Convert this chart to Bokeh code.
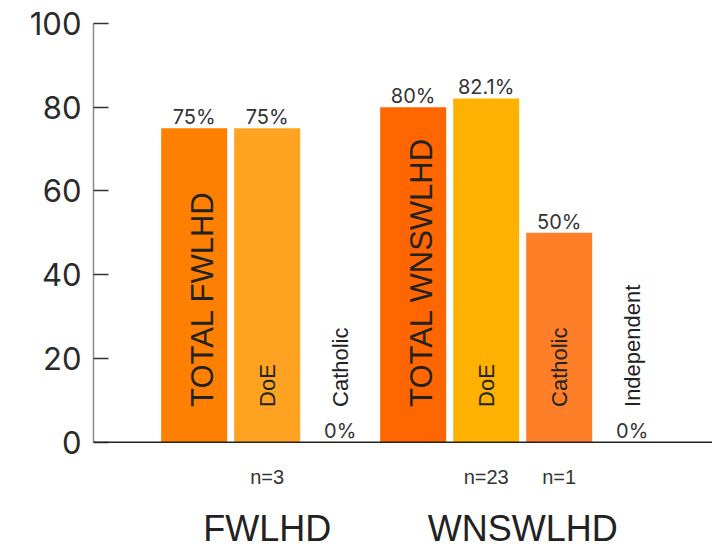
import math
from bokeh.plotting import figure
from bokeh.models import ColumnDataSource, Range1d, Span, FixedTicker
from bokeh.core.properties import value
from bokeh.embed import file_html
from bokeh.resources import INLINE

# ---- data ----
groups = ["FWLHD", "FWLHD", "FWLHD", "WNSWLHD", "WNSWLHD", "WNSWLHD", "WNSWLHD"]
categories = ["TOTAL FWLHD", "DoE", "Catholic", "TOTAL WNSWLHD", "DoE", "Catholic", "Independent"]
values = [75, 75, 0, 80, 82.1, 50, 0]
value_labels = ["75%", "75%", "0%", "80%", "82.1%", "50%", "0%"]
n_labels = ["", "n=3", "", "", "n=23", "n=1", ""]
group_names = ["FWLHD", "WNSWLHD"]
y_ticks = [0, 20, 40, 60, 80, 100]

# ---- styles ----
colors = ["#FF8000", "#FDA321", "#FDA321", "#FF6600", "#FFB100", "#FE7F28", "#FE7F28"]

xs = list(range(len(categories)))
px_per_unit = 418.4 / 100.0
y_bottom = -(549 - 441.7) / px_per_unit

p = figure(width=712, height=549, output_backend="svg", toolbar_location=None,
           x_range=Range1d(-1.379, 7.1), y_range=Range1d(y_bottom, 100),
           x_axis_location=None, min_border_left=93, min_border_right=0,
           min_border_top=23, min_border_bottom=0)
p.outline_line_color = None
p.xgrid.visible = False
p.ygrid.visible = False
p.background_fill_color = "white"
p.border_fill_color = "white"

ax = p.yaxis[0]
ax.bounds = (0, 100)
ax.ticker = FixedTicker(ticks=y_ticks)
ax.major_tick_in = 15
ax.major_tick_out = 0
ax.minor_tick_line_color = None
ax.axis_line_color = "#8a8a8a"
ax.axis_line_width = 1.5
ax.major_tick_line_color = "#333333"
ax.major_tick_line_width = 1.5
ax.major_label_text_font = "Inter"
ax.major_label_text_font_size = "31px"
ax.major_label_text_color = "#2a2a2a"
ax.major_label_standoff = 12

src = ColumnDataSource(dict(
    x=xs, top=values, color=colors, cat=categories, vlab=value_labels,
    nlab=n_labels, vy=[v + 11.0 / px_per_unit for v in values],
    ny=[-8.3] * len(xs),
))

p.vbar(x="x", top="top", bottom=0, width=66 / 73, fill_color="color",
       line_color=None, source=src)

p.add_layout(Span(location=0, dimension="width", line_color="#222222", line_width=1.5))

# value labels
p.text(x="x", y="vy", text="vlab", source=src, text_align="center",
       text_baseline="alphabetic", text_font=value("Inter"),
       text_font_size="20px", text_color="#333333")

# rotated category labels inside bars
tot_idx = [i for i, c in enumerate(categories) if c.startswith("TOTAL")]
oth_idx = [i for i, c in enumerate(categories) if not c.startswith("TOTAL")]
src_tot = ColumnDataSource(dict(x=[xs[i] for i in tot_idx], y=[8.4] * len(tot_idx),
                                t=[categories[i] for i in tot_idx]))
src_oth = ColumnDataSource(dict(x=[xs[i] for i in oth_idx], y=[8.4] * len(oth_idx),
                                t=[categories[i] for i in oth_idx]))
p.text(x="x", y="y", text="t", source=src_tot, angle=math.pi / 2,
       text_align="left", text_baseline="middle", x_offset=8,
       text_font=value("Liberation Sans"), text_font_size="31px", text_color="#222222")
p.text(x="x", y="y", text="t", source=src_oth, angle=math.pi / 2,
       text_align="left", text_baseline="middle",
       text_font=value("Liberation Sans"), text_font_size="22px", text_color="#222222")

# n labels
p.text(x="x", y="ny", text="nlab", source=src, text_align="center",
       text_baseline="alphabetic", text_font=value("Liberation Sans"),
       text_font_size="20px", text_color="#333333")

# group labels
gx = []
for g in group_names:
    idx = [i for i, gg in enumerate(groups) if gg == g]
    gx.append(sum(xs[i] for i in idx) / len(idx))
p.text(x=gx, y=[-20.6] * len(gx), text=group_names, text_align="center",
       text_baseline="alphabetic", text_font=value("Liberation Sans"),
       text_font_size="36px", text_color="#222222")

open("out.html", "w").write(file_html(p, INLINE))
